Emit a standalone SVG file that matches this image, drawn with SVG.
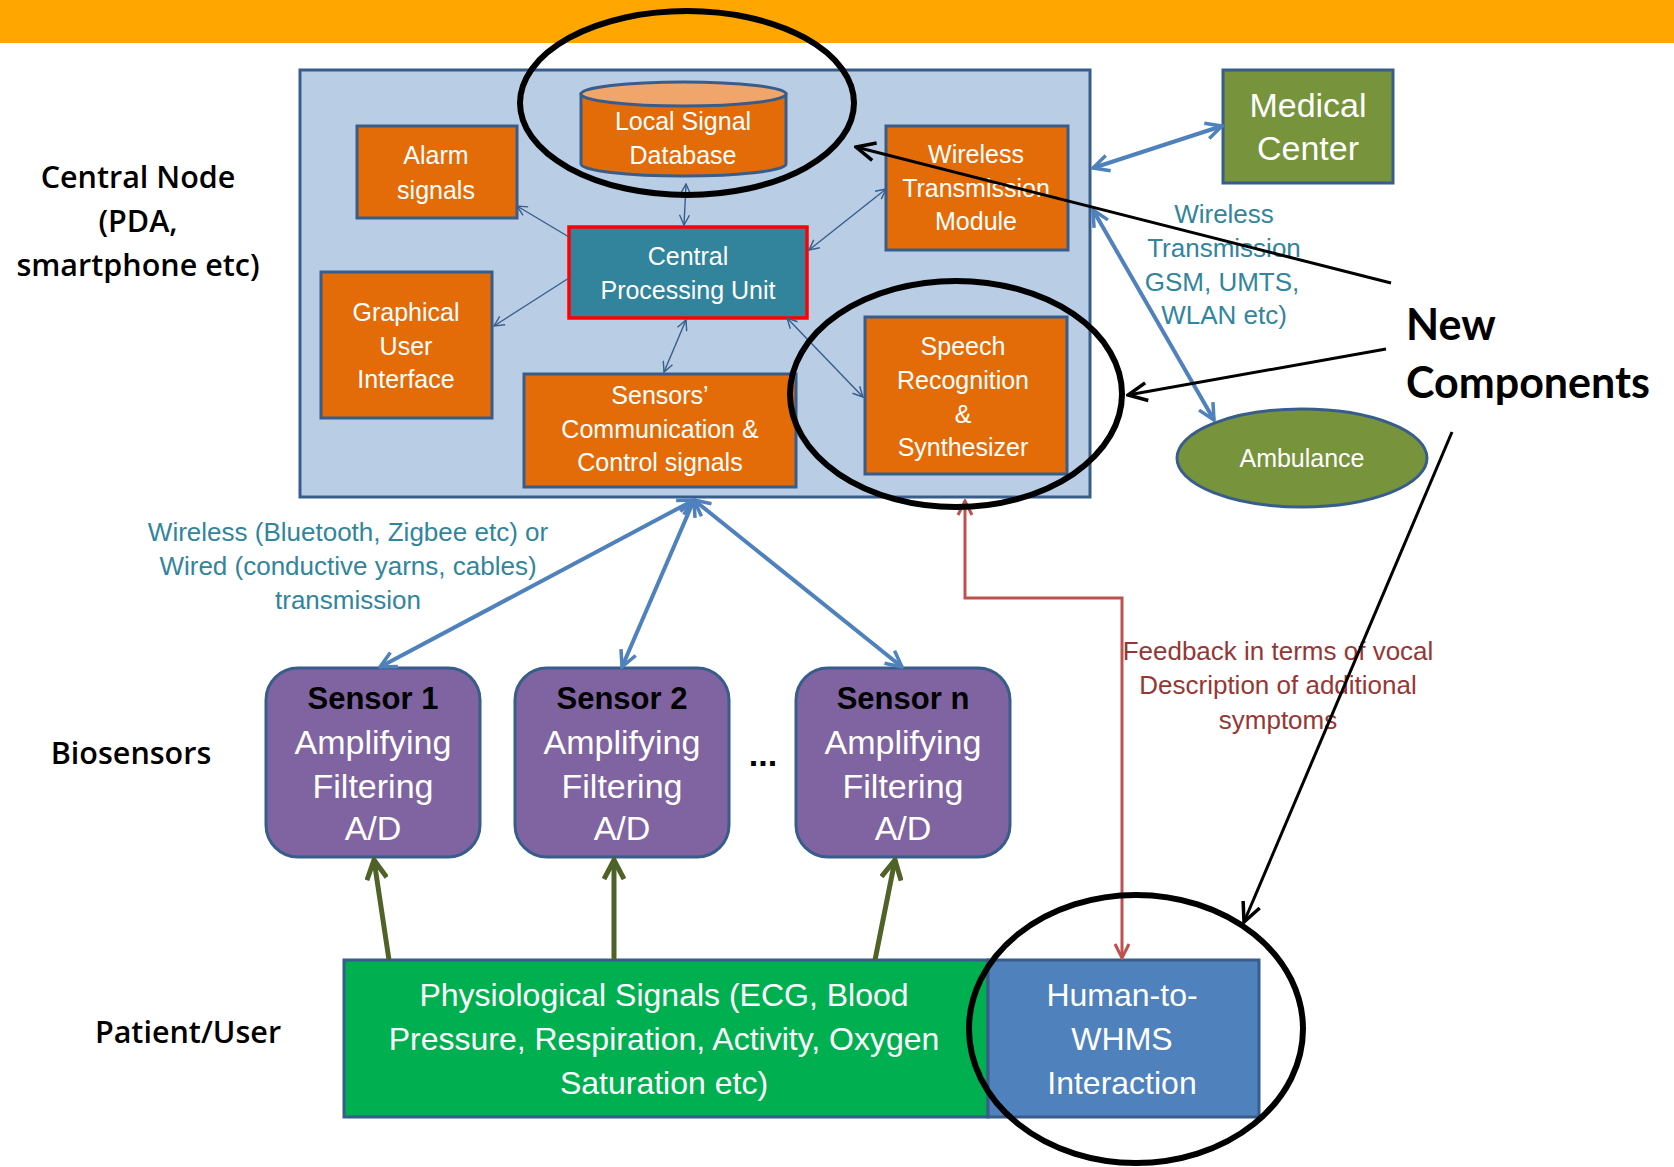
<svg xmlns="http://www.w3.org/2000/svg" width="1674" height="1167" viewBox="0 0 1674 1167">
  <style>
    .box { stroke: #385d8a; stroke-width: 3; }
    .orange { fill: #e36c09; }
    .t { font-family: "Liberation Sans Narrow", "Liberation Sans", Arial, sans-serif; text-anchor: middle; dominant-baseline: central; }
    .w { fill: #ffffff; }
    .node-txt { font-size: 25px; }
    .sens-txt { font-size: 34px; }
    .sens-head { font-size: 31px; font-weight: bold; fill: #000; }
    .side { font-family: "Open Sans", "Liberation Sans", Arial, sans-serif; font-weight: 600; font-size: 30.5px; fill: #000; text-anchor: middle; dominant-baseline: central; }
    .teal { fill: #31859c; font-size: 26px; }
    .feedback { fill: #953735; font-size: 26px; }
    .thin { stroke: #385d8a; stroke-width: 1.4; fill: none; marker-end: url(#thinHead); }
    .both { marker-start: url(#thinHead); }
    .link { stroke: #4f81bd; stroke-width: 4; fill: none; marker-start: url(#blueHead); marker-end: url(#blueHead); }
    .up { stroke: #4f6228; stroke-width: 5; fill: none; marker-end: url(#greenHead); }
    .ring { fill: none; stroke: #000; stroke-width: 6; }
    .pointer { stroke: #000; stroke-width: 3; fill: none; marker-end: url(#blackHead); }
  </style>
  <defs>
    <marker id="thinHead" viewBox="0 0 12 12" refX="11" refY="6" markerWidth="12" markerHeight="12" markerUnits="userSpaceOnUse" orient="auto-start-reverse">
      <path d="M1,1 L11,6 L1,11" fill="none" stroke="#385d8a" stroke-width="1.4"/>
    </marker>
    <marker id="blueHead" viewBox="0 0 20 20" refX="18" refY="10" markerWidth="20" markerHeight="20" markerUnits="userSpaceOnUse" orient="auto-start-reverse">
      <path d="M2,2 L18,10 L2,18" fill="none" stroke="#4f81bd" stroke-width="3.5"/>
    </marker>
    <marker id="greenHead" viewBox="0 0 24 24" refX="21" refY="12" markerWidth="24" markerHeight="24" markerUnits="userSpaceOnUse" orient="auto">
      <path d="M2,2 L21,12 L2,22" fill="none" stroke="#4f6228" stroke-width="5"/>
    </marker>
    <marker id="redHead" viewBox="0 0 18 18" refX="16" refY="9" markerWidth="18" markerHeight="18" markerUnits="userSpaceOnUse" orient="auto-start-reverse">
      <path d="M2,2 L16,9 L2,16" fill="none" stroke="#c0504d" stroke-width="3"/>
    </marker>
    <marker id="blackHead" viewBox="0 0 24 24" refX="22" refY="12" markerWidth="24" markerHeight="24" markerUnits="userSpaceOnUse" orient="auto">
      <path d="M3,3 L22,12 L3,21" fill="none" stroke="#000" stroke-width="3.5"/>
    </marker>
  </defs>

  <rect width="1674" height="1167" fill="#ffffff"/>
  <!-- header band -->
  <rect x="0" y="0" width="1674" height="43" fill="#ffa600"/>

  <!-- row captions -->
  <g id="caption-central">
    <text class="side" x="138" y="176">Central Node</text>
    <text class="side" x="138" y="220">(PDA,</text>
    <text class="side" x="138" y="264">smartphone etc)</text>
  </g>
  <g id="caption-biosensors"><text class="side" x="131" y="752">Biosensors</text></g>
  <g id="caption-patient"><text class="side" x="188" y="1031">Patient/User</text></g>

  <!-- central node container -->
  <g id="central-node">
    <rect x="300" y="70" width="790" height="427" fill="#b9cde5" class="box"/>
  </g>

  <g id="local-db">
    <path d="M581,94 L581,164 A102.5,12 0 0 0 786,164 L786,94 Z" class="box orange"/>
    <ellipse cx="683.5" cy="94" rx="102.5" ry="12" fill="#f0a66b" class="box"/>
    <text class="t w node-txt" x="683" y="121">Local Signal</text>
    <text class="t w node-txt" x="683" y="155">Database</text>
  </g>

  <g id="alarm">
    <rect x="357" y="126" width="160" height="92" class="box orange"/>
    <text class="t w node-txt" x="436" y="155">Alarm</text>
    <text class="t w node-txt" x="436" y="190">signals</text>
  </g>

  <g id="cpu">
    <rect x="569" y="227" width="238" height="91" fill="#31849b" stroke="#ff0000" stroke-width="3.5"/>
    <text class="t w node-txt" x="688" y="256">Central</text>
    <text class="t w node-txt" x="688" y="290">Processing Unit</text>
  </g>

  <g id="wireless-module">
    <rect x="886" y="126" width="182" height="124" class="box orange"/>
    <text class="t w node-txt" x="976" y="154">Wireless</text>
    <text class="t w node-txt" x="976" y="188">Transmission</text>
    <text class="t w node-txt" x="976" y="221">Module</text>
  </g>

  <g id="gui">
    <rect x="321" y="272" width="171" height="146" class="box orange"/>
    <text class="t w node-txt" x="406" y="312">Graphical</text>
    <text class="t w node-txt" x="406" y="346">User</text>
    <text class="t w node-txt" x="406" y="379">Interface</text>
  </g>

  <g id="sensors-comm">
    <rect x="524" y="374" width="272" height="113" class="box orange"/>
    <text class="t w node-txt" x="660" y="395">Sensors’</text>
    <text class="t w node-txt" x="660" y="429">Communication &amp;</text>
    <text class="t w node-txt" x="660" y="462">Control signals</text>
  </g>

  <g id="speech">
    <rect x="865" y="317" width="202" height="157" class="box orange"/>
    <text class="t w node-txt" x="963" y="346">Speech</text>
    <text class="t w node-txt" x="963" y="380">Recognition</text>
    <text class="t w node-txt" x="963" y="414">&amp;</text>
    <text class="t w node-txt" x="963" y="447">Synthesizer</text>
  </g>

  <g id="medical-center">
    <rect x="1223" y="70" width="170" height="113" fill="#77933c" class="box"/>
    <text class="t w" font-size="34" x="1308" y="105">Medical</text>
    <text class="t w" font-size="34" x="1308" y="148">Center</text>
  </g>

  <g id="ambulance">
    <ellipse cx="1302" cy="458" rx="125" ry="49" fill="#77933c" class="box"/>
    <text class="t w" font-size="25" x="1302" y="458">Ambulance</text>
  </g>

  <g id="sensor-1">
    <rect x="266" y="668" width="214" height="189" rx="32" fill="#8064a2" class="box"/>
    <text class="t sens-head" x="373" y="698">Sensor 1</text>
    <text class="t w sens-txt" x="373" y="742">Amplifying</text>
    <text class="t w sens-txt" x="373" y="786">Filtering</text>
    <text class="t w sens-txt" x="373" y="828">A/D</text>
  </g>
  <g id="sensor-2">
    <rect x="515" y="668" width="214" height="189" rx="32" fill="#8064a2" class="box"/>
    <text class="t sens-head" x="622" y="698">Sensor 2</text>
    <text class="t w sens-txt" x="622" y="742">Amplifying</text>
    <text class="t w sens-txt" x="622" y="786">Filtering</text>
    <text class="t w sens-txt" x="622" y="828">A/D</text>
  </g>
  <g id="sensor-n">
    <rect x="796" y="668" width="214" height="189" rx="32" fill="#8064a2" class="box"/>
    <text class="t sens-head" x="903" y="698">Sensor n</text>
    <text class="t w sens-txt" x="903" y="742">Amplifying</text>
    <text class="t w sens-txt" x="903" y="786">Filtering</text>
    <text class="t w sens-txt" x="903" y="828">A/D</text>
  </g>
  <text class="t" font-size="34" font-weight="bold" fill="#000" x="763" y="754">...</text>

  <g id="physiological">
    <rect x="344" y="960" width="644" height="157" fill="#00b050" class="box"/>
    <text class="t w" font-size="32" x="664" y="995">Physiological Signals (ECG, Blood</text>
    <text class="t w" font-size="32" x="664" y="1039">Pressure, Respiration, Activity, Oxygen</text>
    <text class="t w" font-size="32" x="664" y="1083">Saturation etc)</text>
  </g>

  <g id="human-whms">
    <rect x="988" y="960" width="271" height="157" fill="#4f81bd" class="box"/>
    <text class="t w" font-size="32" x="1122" y="995">Human-to-</text>
    <text class="t w" font-size="32" x="1122" y="1039">WHMS</text>
    <text class="t w" font-size="32" x="1122" y="1083">Interaction</text>
  </g>

  <!-- link captions -->
  <g id="captions">
    <text class="t teal" x="1224" y="214">Wireless</text>
    <text class="t teal" x="1224" y="248">Transmission</text>
    <text class="t teal" x="1222" y="282">GSM, UMTS,</text>
    <text class="t teal" x="1224" y="315">WLAN etc)</text>
    <text class="t teal" x="348" y="532">Wireless (Bluetooth, Zigbee etc) or</text>
    <text class="t teal" x="348" y="566">Wired (conductive yarns, cables)</text>
    <text class="t teal" x="348" y="600">transmission</text>
    <text class="t feedback" x="1278" y="651">Feedback in terms of vocal</text>
    <text class="t feedback" x="1278" y="685">Description of additional</text>
    <text class="t feedback" x="1278" y="720">symptoms</text>
  </g>

  <!-- connectors -->
  <g id="connectors">
    <line class="thin both" x1="684" y1="225" x2="686" y2="184"/>
    <line class="thin" x1="569" y1="237" x2="517" y2="206"/>
    <line class="thin" x1="569" y1="278" x2="494" y2="326"/>
    <line class="thin both" x1="686" y1="320" x2="664" y2="372"/>
    <line class="thin both" x1="787" y1="318" x2="863" y2="397"/>
    <line class="thin both" x1="809" y1="250" x2="886" y2="189"/>

    <line class="link" x1="1093" y1="168" x2="1222" y2="126"/>
    <line class="link" x1="1093" y1="210" x2="1214" y2="420"/>
    <line class="link" x1="694" y1="500" x2="380" y2="667"/>
    <line class="link" x1="694" y1="500" x2="622" y2="667"/>
    <line class="link" x1="694" y1="500" x2="902" y2="667"/>

    <line class="up" x1="389" y1="960" x2="374" y2="860"/>
    <line class="up" x1="614" y1="960" x2="614" y2="860"/>
    <line class="up" x1="875" y1="960" x2="895" y2="860"/>

    <polyline points="965,501 965,598 1122,598 1122,958" fill="none" stroke="#c0504d" stroke-width="3" marker-start="url(#redHead)" marker-end="url(#redHead)"/>
  </g>

  <!-- highlight rings and pointers -->
  <g id="new-components">
    <ellipse class="ring" cx="687" cy="103" rx="167" ry="92"/>
    <ellipse class="ring" cx="956" cy="394" rx="166" ry="113"/>
    <ellipse class="ring" cx="1136" cy="1029" rx="167" ry="134"/>
    <line class="pointer" x1="1391" y1="283" x2="856" y2="147"/>
    <line class="pointer" x1="1386" y1="349" x2="1128" y2="395"/>
    <line class="pointer" x1="1452" y1="432" x2="1244" y2="922"/>
    <text font-family="Lato, 'Liberation Sans', Arial, sans-serif" font-weight="bold" font-size="43" fill="#000" x="1406" y="340">New</text>
    <text font-family="Lato, 'Liberation Sans', Arial, sans-serif" font-weight="bold" font-size="43" fill="#000" x="1406" y="398">Components</text>
  </g>
</svg>
